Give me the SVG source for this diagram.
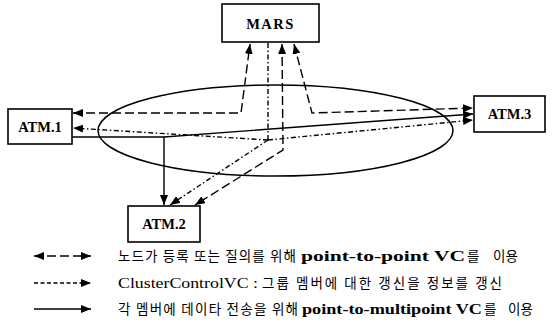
<svg xmlns="http://www.w3.org/2000/svg" width="553" height="326" viewBox="0 0 553 326">
<style>
.box{fill:#fff;stroke:#000;stroke-width:1.6}
.lbl{font-family:"Liberation Serif","Noto Sans CJK KR",serif;font-weight:bold;font-size:14.5px;fill:#000;text-anchor:middle}
.ln{fill:none;stroke:#000;stroke-width:1.4}
.reg{stroke-dasharray:9 4}
.ctl{stroke-dasharray:5 2.5 1.5 2.5}
.leg{font-family:"Liberation Serif","Noto Sans CJK KR",serif;font-size:13.5px;fill:#000}
.ko{font-family:"Noto Sans CJK KR","Liberation Serif",sans-serif;font-size:13.5px}
.en{font-family:"Liberation Serif",serif;font-size:14.5px}
.b{font-weight:bold}
</style>
<defs>
<marker id="ah" viewBox="0 0 10 8" refX="10" refY="4" markerWidth="10" markerHeight="8" markerUnits="userSpaceOnUse" orient="auto-start-reverse">
<path d="M0,0 L10,4 L0,8 Z" fill="#000"/>
</marker>
</defs>
<ellipse cx="275.5" cy="130.5" rx="177.5" ry="45.5" fill="none" stroke="#000" stroke-width="1.5"/>
<g id="connectors">
<polyline class="ln reg" points="73,113 241,113 250,44" marker-start="url(#ah)" marker-end="url(#ah)"/>
<polyline class="ln reg" points="294,44 312,113 473,108" marker-start="url(#ah)" marker-end="url(#ah)"/>
<polyline class="ln reg" points="282,44 283,150 195,205" marker-start="url(#ah)" marker-end="url(#ah)"/>
<polyline class="ln ctl" points="268,43 268,140"/>
<polyline class="ln ctl" points="268,140 73,128" marker-end="url(#ah)"/>
<polyline class="ln ctl" points="268,140 473,120" marker-end="url(#ah)"/>
<polyline class="ln ctl" points="268,140 170,205" marker-end="url(#ah)"/>
<polyline class="ln" points="72,137 164,137 473,114" marker-end="url(#ah)"/>
<polyline class="ln" points="164,137 164,205" marker-end="url(#ah)"/>
</g>
<g id="mars">
<rect class="box" x="222" y="4" width="97" height="38"/>
<text class="lbl" x="270.5" y="29" letter-spacing="1.5">MARS</text>
</g>
<g id="atm1">
<rect class="box" x="8" y="109" width="64" height="35"/>
<text class="lbl" x="40" y="132">ATM.1</text>
</g>
<g id="atm3">
<rect class="box" x="474" y="96" width="71" height="36"/>
<text class="lbl" x="509.5" y="119">ATM.3</text>
</g>
<g id="atm2">
<rect class="box" x="128" y="206" width="72" height="36"/>
<text class="lbl" x="164" y="229">ATM.2</text>
</g>
<g id="legend">
<line class="ln reg" x1="34" y1="256" x2="91" y2="256" stroke-width="1.3" marker-start="url(#ah)" marker-end="url(#ah)"/>
<line class="ln" x1="34" y1="283" x2="91" y2="283" stroke-width="1.1" stroke-dasharray="4 2.5" marker-end="url(#ah)"/>
<line class="ln" x1="34" y1="309" x2="91" y2="309" stroke-width="1.1" marker-end="url(#ah)"/>
<text class="leg" y="261"><tspan class="ko" x="118" textLength="178" lengthAdjust="spacing">노드가 등록 또는 질의를 위해</tspan> <tspan class="en b" x="301" textLength="164" lengthAdjust="spacingAndGlyphs">point-to-point VC</tspan><tspan class="ko" x="467">를 </tspan><tspan class="ko" x="493" font-size="14.5">이용</tspan></text>
<text class="leg" y="288"><tspan class="en" x="118" textLength="140" lengthAdjust="spacingAndGlyphs">ClusterControlVC :</tspan> <tspan class="ko" x="262" textLength="240" lengthAdjust="spacing">그룹 멤버에 대한 갱신을 정보를 갱신</tspan></text>
<text class="leg" y="314"><tspan class="ko" x="118" textLength="180" lengthAdjust="spacing">각 멤버에 데이타 전송을 위해</tspan> <tspan class="en b" x="302" textLength="180" lengthAdjust="spacingAndGlyphs">point-to-multipoint VC</tspan><tspan class="ko" x="484">를 </tspan><tspan class="ko" x="508" font-size="14.5">이용</tspan></text>
</g>
</svg>
